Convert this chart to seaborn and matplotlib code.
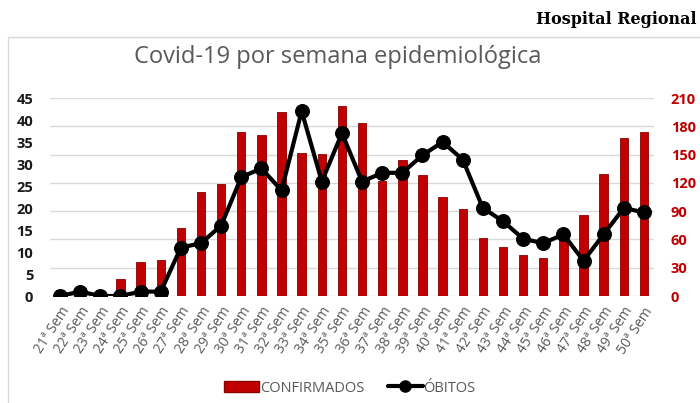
import matplotlib
matplotlib.use("Agg")
import matplotlib.pyplot as plt
import seaborn as sns
import pandas as pd
from matplotlib.patches import Rectangle, Patch
from matplotlib.lines import Line2D

semanas = [f"{n}ª Sem" for n in range(21, 51)]
confirmados = [6, 0, 0, 18, 36, 38, 72, 110, 119, 174, 171, 195, 152, 151, 201,
               183, 122, 144, 128, 105, 92, 61, 52, 43, 40, 64, 86, 129, 168, 174]
obitos = [0, 1, 0, 0, 1, 1, 11, 12, 16, 27, 29, 24, 42, 26, 37,
          26, 28, 28, 32, 35, 31, 20, 17, 13, 12, 14, 8, 14, 20, 19]

df = pd.DataFrame({"semana": semanas, "confirmados": confirmados, "obitos": obitos})

sns.set_theme(style="white")
plt.rcParams["font.family"] = ["Open Sans", "DejaVu Sans"]

fig = plt.figure(figsize=(7.0, 4.03), dpi=100)
ax = fig.add_axes([50/700, 1-296/403, 604/700, 198/403])
ax2 = ax.twinx()

# bars on right axis
sns.barplot(data=df, x="semana", y="confirmados", ax=ax2, color="#C00000",
            width=0.42, edgecolor="#8A0000", linewidth=0.6, saturation=1)
ax2.set_ylim(0, 210)
ax2.set_yticks(range(0, 211, 30))
ax2.grid(axis="y", color="#D9D9D9", linewidth=1)
ax2.set_axisbelow(True)
ax2.set_ylabel("")
for lab in ax2.get_yticklabels():
    lab.set_color("#C00000")
    lab.set_fontweight("bold")
    lab.set_fontsize(10.5)
ax2.tick_params(axis="y", length=0, pad=12)

# line on left axis
sns.lineplot(data=df, x="semana", y="obitos", ax=ax, color="black", linewidth=3,
             marker="o", markersize=10, markeredgecolor="black", sort=False)
ax.set_ylim(0, 45)
ax.set_yticks(range(0, 46, 5))
ax.set_ylabel("")
ax.set_xlabel("")
ax2.set_xlabel("")
ax.set_xlim(-0.5, len(semanas) - 0.5)
for lab in ax.get_yticklabels():
    lab.set_fontweight("bold")
    lab.set_fontsize(10.5)
    lab.set_color("#1a1a1a")
ax.tick_params(axis="y", length=0, pad=12)
ax.set_zorder(ax2.get_zorder() + 1)
ax.patch.set_visible(False)

ax.set_xticks(range(len(semanas)))
ax.set_xticklabels(semanas, rotation=57, ha="right", rotation_mode="anchor",
                   fontsize=10, color="#595959")
ax.tick_params(axis="x", length=0, pad=6)
ax2.tick_params(axis="x", length=0)

for a in (ax, ax2):
    for s in a.spines.values():
        s.set_visible(False)

# chart border
fig.add_artist(Rectangle((8/700, -0.05), 1.0, 1 - 37/403 + 0.05, transform=fig.transFigure,
                         fill=False, edgecolor="#D9D9D9", linewidth=1))

fig.text(338/700, 1 - 57/403, "Covid-19 por semana epidemiológica", ha="center", va="center",
         fontsize=17, color="#595959")
fig.text(696/700, 1 - 19/403, "Hospital Regional", ha="right", va="center",
         fontsize=11.5, fontweight="bold", family="DejaVu Serif", color="black")

handles = [Patch(facecolor="#C00000", edgecolor="#8A0000", label="CONFIRMADOS"),
           Line2D([0], [0], color="black", linewidth=3, marker="o", markersize=8,
                  label="ÓBITOS")]
fig.legend(handles=handles, loc="center", bbox_to_anchor=(350/700, 1 - 388/403), ncol=2,
           frameon=False, fontsize=10.5, labelcolor="#595959", handlelength=2.4,
           handletextpad=0.05, columnspacing=1.6)

fig.savefig("out.png", dpi=100)
